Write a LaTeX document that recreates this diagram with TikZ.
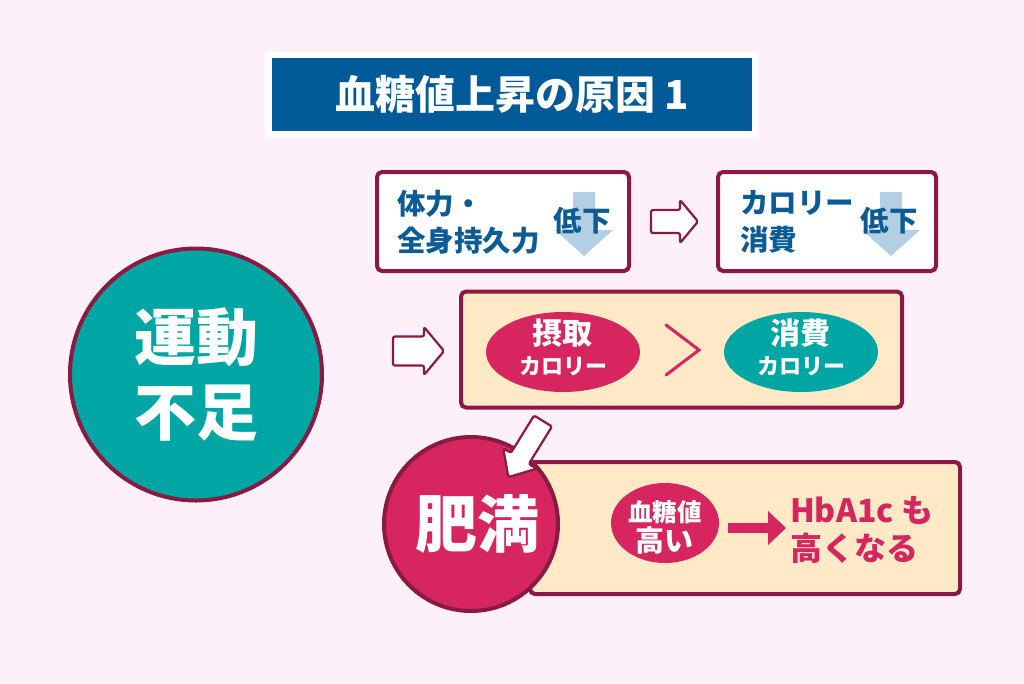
\documentclass[tikz,border=0pt]{standalone}
\usepackage{fontspec}
\setmainfont{Noto Sans CJK JP}
\usetikzlibrary{arrows.meta,shapes.geometric}
\definecolor{bg}{HTML}{FDF0F8}
\definecolor{maroon}{HTML}{8B1A42}
\definecolor{tealc}{HTML}{00A6A4}
\definecolor{pinkc}{HTML}{D7265F}
\definecolor{titleblue}{HTML}{005A98}
\definecolor{bluetext}{HTML}{0B5C96}
\definecolor{lightblue}{HTML}{B4CFE4}
\definecolor{cream}{HTML}{FFE9C6}
\newcommand\fs[2]{\fontsize{#1}{#2}\selectfont}
\newcommand\hollowarrow[7]{%
 \begin{scope}[shift={(#1,#2)}, rotate=#3]
 \draw[harrowstyle] (0,-#5) -- ({#4-#7},-#5) -- ({#4-#7},-#6) -- (#4,0) -- ({#4-#7},#6) -- ({#4-#7},#5) -- (0,#5) -- cycle;
 \end{scope}}
\tikzset{
 harrowstyle/.style={draw=maroon, fill=white, line width=2.2, rounded corners=2, line join=round},
 wbox/.style={draw=maroon, fill=white, line width=4, rounded corners=5, inner sep=0},
 cbox/.style={draw=maroon, fill=cream, line width=4, rounded corners=5, inner sep=0},
 btxt/.style={text=bluetext, font=\bfseries\fs{28.5}{37}, align=left, inner sep=0},
 dlabel/.style={text=bluetext, font=\bfseries\fs{28.5}{32}, inner sep=0},
 ell/.style={ellipse, inner sep=0, minimum width=154, minimum height=80},
 wtxt/.style={text=white, inner sep=0},
}
\begin{document}
\begin{tikzpicture}[x=1pt,y=-1pt]
\fill[bg] (0,0) rectangle (1024,683);
\useasboundingbox (0,0) rectangle (1024,683);

% title
\node[fill=white, rounded corners=5, minimum width=494, minimum height=86, inner sep=0] (titlebg) at (511.5,94.5) {};
\node[fill=titleblue, minimum width=480, minimum height=73, inner sep=0, text=white, font=\bfseries\fs{40}{46}] (title) at (512,94.5) {血糖値上昇の原因 1};

% left circle
\node[circle, draw=maroon, line width=4, fill=tealc, minimum size=252, inner sep=0, text=white, align=center, font=\bfseries\fs{62}{75}] (undo) at (196,374.5) {運動\\不足};

% box 1
\node[wbox, minimum width=252, minimum height=99] (b1) at (503,221.5) {};
\fill[lightblue] (573,192) -- (595,192) -- (595,230) -- (613,230) -- (584,256) -- (555,230) -- (573,230) -- cycle;
\node[btxt, anchor=west] (b1t) at (397,222) {体力・\\全身持久力};
\node[dlabel] (b1d) at (582,221) {低下};

% arrow b1 -> b2
\hollowarrow{651}{221.5}{0}{47}{11.5}{21.5}{18}

% box 2
\node[wbox, minimum width=218, minimum height=99] (b2) at (827,221.5) {};
\fill[lightblue] (880,192) -- (902,192) -- (902,230) -- (920,230) -- (891,256) -- (862,230) -- (880,230) -- cycle;
\node[btxt, anchor=west] (b2t) at (740,222) {カロリー\\消費};
\node[dlabel] (b2d) at (889,221) {低下};

% arrow -> box3
\hollowarrow{393}{351}{0}{51}{14.5}{24}{20}

% box 3
\node[cbox, minimum width=441, minimum height=116] (b3) at (681.5,349.5) {};
\node[ell, fill=pinkc] (intake) at (563,352) {};
\node[wtxt, font=\bfseries\fs{30}{34}] (intake1) at (562,333) {摂取};
\node[wtxt, font=\bfseries\fs{22}{26}] (intake2) at (563,366) {カロリー};
\node[ell, fill=tealc] (burn) at (801,352) {};
\node[wtxt, font=\bfseries\fs{30}{34}] (burn1) at (800,333) {消費};
\node[wtxt, font=\bfseries\fs{22}{26}] (burn2) at (801,366) {カロリー};
\coordinate (gt) at (699,350);
\draw[pinkc, line width=3, line cap=round] (666,325) -- (gt) -- (666,375);

% box 4
\node[cbox, minimum width=430, minimum height=132] (b4) at (745,528) {};
\node[circle, draw=maroon, line width=4, fill=pinkc, minimum size=174, inner sep=0] (obese) at (471,524) {};
\node[wtxt, font=\bfseries\fs{62}{70}] (obeset) at (477,524) {肥満};
\hollowarrow{543}{421}{-121.7}{66}{10.5}{19.5}{22}

\node[ellipse, fill=pinkc, minimum width=108, minimum height=80, inner sep=0] (sugar) at (665,523) {};
\node[wtxt, font=\bfseries\fs{24.5}{28}] (sugar1) at (665,512) {血糖値};
\node[wtxt, font=\bfseries\fs{29}{32}] (sugar2) at (664,540) {高い};
\node[text=pinkc, font=\bfseries\fs{32}{38}, align=left, anchor=west, inner sep=0] (hba) at (790,530) {HbA1c も\\高くなる};
\coordinate (arrEnd) at (786,528);
\draw[pinkc, line width=10, -{Triangle[length=18pt,width=33pt]}] (728,528) -- (arrEnd);
\end{tikzpicture}
\end{document}
